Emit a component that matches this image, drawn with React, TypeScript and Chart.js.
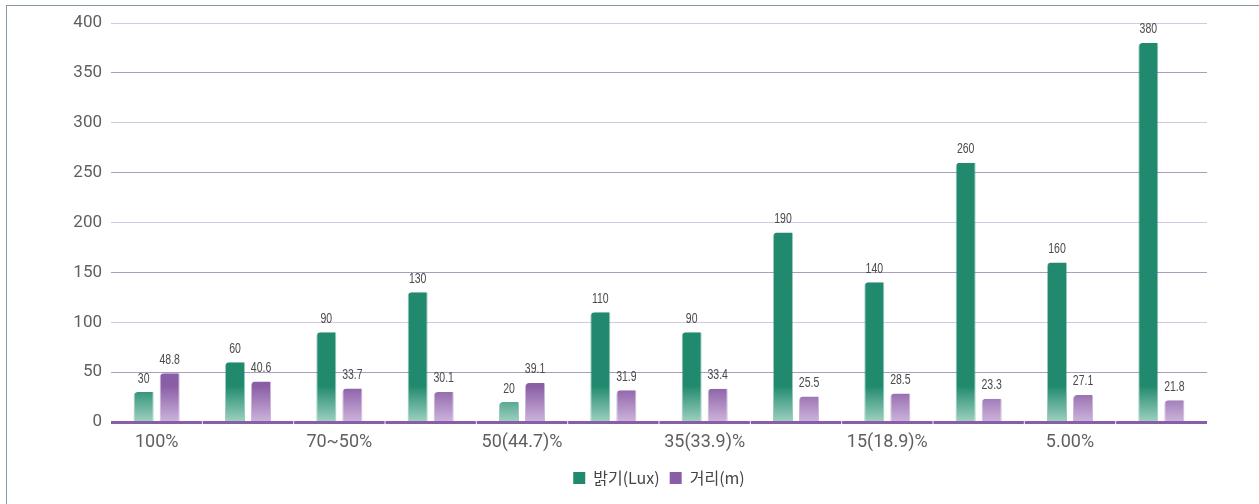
import { useEffect, useRef } from "react";
import { Chart, registerables } from "chart.js";

Chart.register(...registerables);

// Dimming levels along the x axis (only every other level is labelled)
const categories = ["100%", "", "70~50%", "", "50(44.7)%", "", "35(33.9)%", "", "15(18.9)%", "", "5.00%", ""];
// Illuminance in lux
const brightness = [30, 60, 90, 130, 20, 110, 90, 190, 140, 260, 160, 380];
// Distance in metres
const distance = [48.8, 40.6, 33.7, 30.1, 39.1, 31.9, 33.4, 25.5, 28.5, 23.3, 27.1, 21.8];
const seriesNames = ["밝기(Lux)", "거리(m)"];
const yMax = 400;
const yStep = 50;

const GREEN = "#218a6e";
const GREEN_LIGHT = "#9fd1c1";
const PURPLE = "#8a5ea6";
const PURPLE_LIGHT = "#cdb4dc";

// Solid bar colour that washes out toward the baseline
const fade = (solid: string, light: string) => (ctx: any) => {
  const area = ctx.chart.chartArea;
  if (!area || ctx.type !== "data") return solid;
  const g = ctx.chart.ctx.createLinearGradient(0, area.bottom - 36, 0, area.bottom);
  g.addColorStop(0, solid);
  g.addColorStop(1, light);
  return g;
};

// Small condensed value label above every bar
const valueLabels = {
  id: "valueLabels",
  afterDraw(chart: any) {
    const ctx = chart.ctx;
    ctx.save();
    ctx.fillStyle = "#4a4a4a";
    ctx.font = "15px 'Liberation Sans', Arial, sans-serif";
    ctx.textAlign = "center";
    ctx.textBaseline = "alphabetic";
    chart.data.datasets.forEach((ds: any, i: number) => {
      const meta = chart.getDatasetMeta(i);
      meta.data.forEach((bar: any, j: number) => {
        ctx.save();
        ctx.translate(bar.x, bar.y - 9.5);
        ctx.scale(0.7, 1);
        ctx.fillText(String(ds.data[j]), 0, 0);
        ctx.restore();
      });
    });
    ctx.restore();
  },
};

// Thick baseline split by thin gaps at the category boundaries
const baseline = {
  id: "baseline",
  afterDatasetsDraw(chart: any) {
    const { ctx, chartArea } = chart;
    const n = chart.data.labels.length;
    const step = (chartArea.right - chartArea.left) / n;
    ctx.save();
    ctx.fillStyle = PURPLE;
    for (let i = 0; i < n; i++) {
      const a = chartArea.left + i * step + (i === 0 ? 0 : 0.5);
      const b = chartArea.left + (i + 1) * step - (i === n - 1 ? 0 : 0.5);
      ctx.fillRect(a, chartArea.bottom - 1, b - a, 3);
    }
    ctx.restore();
  },
};

export default function App() {
  const ref = useRef<HTMLCanvasElement | null>(null);

  useEffect(() => {
    if (!ref.current) return;
    const chart = new Chart(ref.current, {
      type: "bar",
      data: {
        labels: categories,
        datasets: [
          {
            label: seriesNames[0],
            data: brightness,
            backgroundColor: fade(GREEN, GREEN_LIGHT),
            borderColor: "rgba(33,138,110,0.45)",
            borderWidth: { left: 1, right: 1, top: 0, bottom: 0 },
            borderSkipped: "start",
            borderRadius: { topLeft: 4, topRight: 1, bottomLeft: 0, bottomRight: 0 },
            categoryPercentage: 0.57,
            barPercentage: 0.77,
          },
          {
            label: seriesNames[1],
            data: distance,
            backgroundColor: fade(PURPLE, PURPLE_LIGHT),
            borderColor: "rgba(138,94,166,0.45)",
            borderWidth: { left: 1, right: 1, top: 0, bottom: 0 },
            borderSkipped: "start",
            borderRadius: { topLeft: 4, topRight: 1, bottomLeft: 0, bottomRight: 0 },
            categoryPercentage: 0.57,
            barPercentage: 0.77,
          },
        ],
      },
      options: {
        animation: false,
        responsive: true,
        maintainAspectRatio: false,
        layout: { padding: { top: 23, right: 52, bottom: 8, left: 0 } },
        plugins: {
          tooltip: { enabled: false },
          legend: {
            position: "bottom",
            fullSize: false,
            labels: {
              boxWidth: 12,
              boxHeight: 12,
              padding: 10,
              color: "#444",
              font: { family: "'Noto Sans CJK KR', 'Noto Sans', sans-serif", size: 16 },
              generateLabels: (c: any) =>
                Chart.defaults.plugins.legend.labels.generateLabels(c).map((l: any, i: number) => ({
                  ...l,
                  fillStyle: i === 0 ? GREEN : PURPLE,
                  strokeStyle: "rgba(0,0,0,0)",
                  lineWidth: 0,
                })),
            },
          },
        },
        scales: {
          x: {
            grid: { display: false, drawTicks: false },
            border: { display: false },
            ticks: {
              autoSkip: false,
              maxRotation: 0,
              padding: 10,
              color: "#5f5f5f",
              font: { family: "Roboto, 'Noto Sans', sans-serif", size: 18 },
            },
            afterFit: (s: any) => {
              s.height = 38;
            },
          },
          y: {
            min: 0,
            max: yMax,
            z: 1,
            ticks: {
              stepSize: yStep,
              padding: 9,
              color: "#5f5f5f",
              font: { family: "Roboto, 'Noto Sans', sans-serif", size: 17 },
            },
            grid: {
              drawTicks: false,
              lineWidth: 1,
              color: (c: any) => (c.tick && c.tick.value % 100 === 0 ? "#d6c8e3" : "#ac9cc0"),
            },
            border: { display: false },
            afterFit: (s: any) => {
              s.width = 111;
            },
          },
        },
      },
      plugins: [baseline, valueLabels],
    });
    return () => chart.destroy();
  }, []);

  return (
    <div
      style={{
        position: "absolute",
        left: 0,
        top: 0,
        width: 1259,
        height: 504,
        overflow: "hidden",
        background: "#fff",
      }}
    >
      <div
        style={{
          position: "absolute",
          left: 6,
          top: 5,
          width: 1300,
          height: 600,
          borderTop: "1px solid #8299a4",
          borderLeft: "1px solid #8299a4",
        }}
      />
      <div style={{ position: "absolute", left: 0, top: 0, width: 1259, height: 504 }}>
        <canvas ref={ref} />
      </div>
    </div>
  );
}
